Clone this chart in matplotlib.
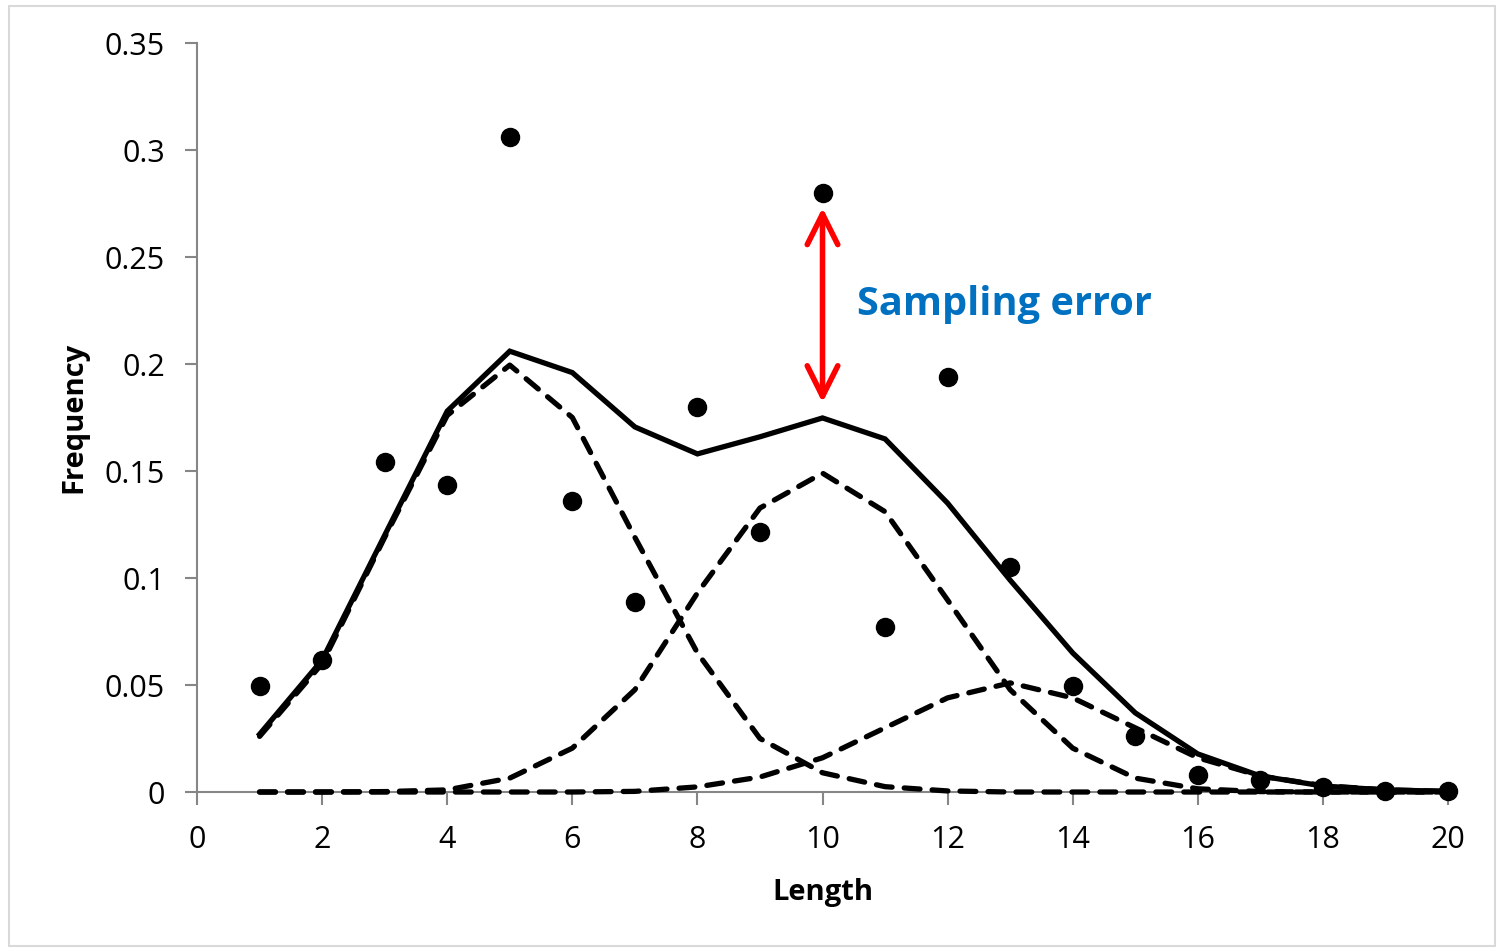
import matplotlib

matplotlib.use("Agg")
import matplotlib.pyplot as plt
from matplotlib.patches import Rectangle

# data
length = list(range(1, 21))
observed = [0.0495, 0.0617, 0.154, 0.1435, 0.306, 0.136, 0.0888, 0.180, 0.1215, 0.280,
            0.0771, 0.194, 0.105, 0.0495, 0.026, 0.008, 0.0056, 0.0023, 0.0005, 0.0005]
total_fit = [0.027, 0.0617, 0.120, 0.178, 0.206, 0.196, 0.1706, 0.158, 0.166, 0.1748,
             0.165, 0.135, 0.099, 0.065, 0.037, 0.0178, 0.0075, 0.0028, 0.001, 0.0003]
comp1 = [0.026, 0.060, 0.119, 0.176, 0.1995, 0.175, 0.119, 0.065, 0.025, 0.009,
         0.0025, 0.0005, 0.0, 0.0, 0.0, 0.0, 0.0, 0.0, 0.0, 0.0]
comp2 = [0.0, 0.0, 0.0002, 0.001, 0.0065, 0.0205, 0.0478, 0.093, 0.1327, 0.149,
         0.131, 0.0897, 0.0478, 0.0205, 0.0065, 0.0015, 0.0002, 0.0, 0.0, 0.0]
comp3 = [0.0, 0.0, 0.0, 0.0, 0.0, 0.0, 0.0003, 0.0024, 0.007, 0.016,
         0.030, 0.044, 0.051, 0.044, 0.030, 0.016, 0.0075, 0.003, 0.001, 0.0003]
x_ticks = list(range(0, 21, 2))
y_ticks = [0, 0.05, 0.1, 0.15, 0.2, 0.25, 0.3, 0.35]
y_labels = ["0", "0.05", "0.1", "0.15", "0.2", "0.25", "0.3", "0.35"]

plt.rcParams["font.family"] = ["Open Sans", "DejaVu Sans"]

fig = plt.figure(figsize=(15.03, 9.5), dpi=100)
fig.patches.append(Rectangle((0.006, 0.004), 0.989, 0.99, transform=fig.transFigure,
                             fill=False, edgecolor="#d9d9d9", lw=1.5))
ax = fig.add_axes([0.1311, 0.1663, 0.8323, 0.7884])

dash_kw = dict(color="black", lw=3.8, linestyle=(0, (3.0, 2.3)),
               dash_capstyle="round", zorder=3, clip_on=False)
for comp in (comp1, comp2, comp3):
    ax.plot(length, comp, **dash_kw)
ax.plot(length, total_fit, color="black", lw=3.8, solid_joinstyle="miter", zorder=4,
        clip_on=False)
ax.plot(length, observed, "o", color="black", ms=13, zorder=5, linestyle="none",
        clip_on=False)

ax.annotate("", xy=(10, 0.182), xytext=(10, 0.273),
            arrowprops=dict(arrowstyle="<->,head_length=2.2,head_width=1.1",
                            color="red", lw=4, shrinkA=0, shrinkB=0,
                            capstyle="round", joinstyle="round"))
ax.text(10.55, 0.2276, "Sampling error", color="#0070c0", fontsize=28.6,
        fontweight="bold", va="center", ha="left")

ax.set_xlim(0, 20)
ax.set_ylim(0, 0.35)
ax.set_xticks(x_ticks)
ax.set_yticks(y_ticks)
ax.set_yticklabels(y_labels)
ax.tick_params(axis="both", labelsize=22, color="#868686", width=1.5, length=9,
               direction="out")
ax.tick_params(axis="x", pad=15)
ax.tick_params(axis="y", pad=14)
for side in ("top", "right"):
    ax.spines[side].set_visible(False)
for side in ("left", "bottom"):
    ax.spines[side].set_color("#868686")
    ax.spines[side].set_linewidth(1.5)
ax.set_xlabel("Length", fontsize=21, fontweight="bold", labelpad=16)
ax.set_ylabel("Frequency", fontsize=21, fontweight="bold", labelpad=12)

fig.savefig("out.png", dpi=100)
